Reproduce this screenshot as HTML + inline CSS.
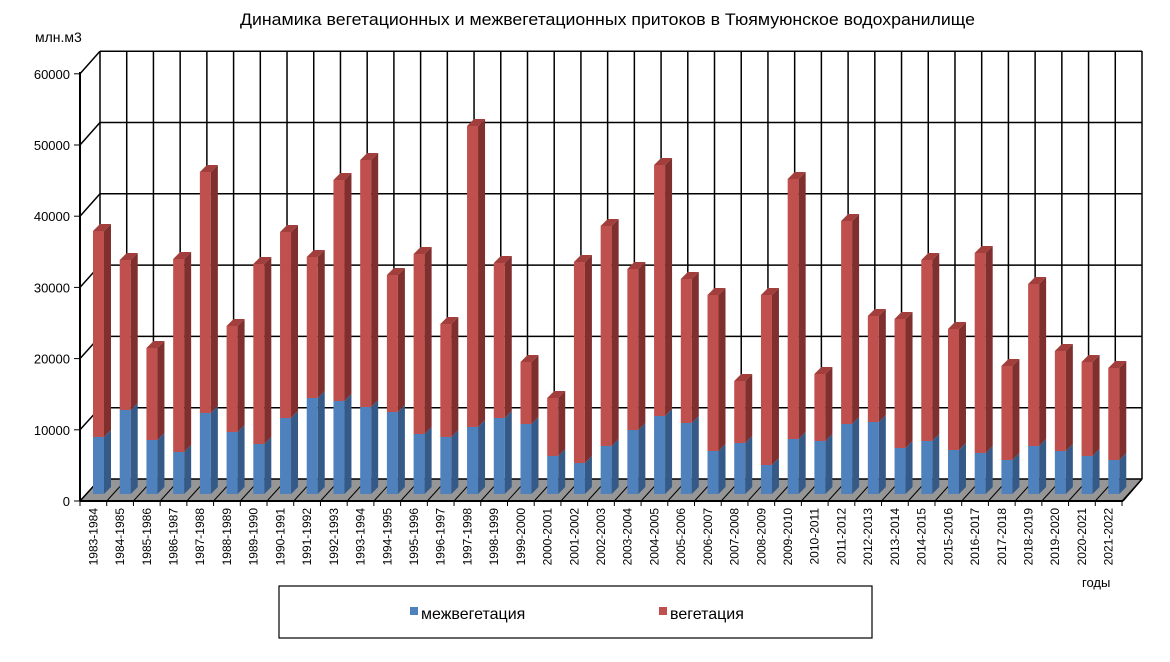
<!DOCTYPE html>
<html><head><meta charset="utf-8"><style>
body{margin:0;background:#fff}
svg{display:block;font-family:"Liberation Sans",Arial,sans-serif}
</style></head><body>
<svg id="c" width="1170" height="662" viewBox="0 0 1170 662" xmlns="http://www.w3.org/2000/svg">
<rect width="1170" height="662" fill="#fff"/>
<text x="240" y="25" font-size="16.5" textLength="735" lengthAdjust="spacingAndGlyphs">Динамика вегетационных и межвегетационных притоков в Тюямуюнское водохранилище</text>
<text x="35" y="42" font-size="14">млн.м3</text>
<text x="1082" y="587" font-size="13">годы</text>
<rect x="279" y="586" width="593" height="52" fill="none" stroke="#000" stroke-width="1.2"/>
<rect x="410" y="607" width="8" height="8" fill="#4F81BD"/>
<text x="421" y="619" font-size="16">межвегетация</text>
<rect x="659" y="607" width="8" height="8" fill="#C0504D"/>
<text x="670" y="619" font-size="16">вегетация</text>
<g id="g"></g>
</svg>
<script>
var g=document.getElementById('g'),s='';
var W=1042/39;
s+='<polygon points="80,501 1123,501 1142,479 100,479" fill="#969696"/>';
for(var k=0;k<=6;k++){var yb=479-k*71.3,yf=501-k*71.2;
 s+='<line x1="100" y1="'+yb+'" x2="1142" y2="'+yb+'" stroke="#000" stroke-width="1.5"/>';
 s+='<line x1="80" y1="'+yf+'" x2="100" y2="'+yb+'" stroke="#000" stroke-width="1.5"/>';
 s+='<line x1="74" y1="'+yf+'" x2="80" y2="'+yf+'" stroke="#000"/>';
 s+='<text x="70" y="'+(yf+5)+'" font-size="13" text-anchor="end">'+(k*10000)+'</text>';}
for(var i=0;i<=39;i++){var xb=100+i*W,xf=80+i*W;
 s+='<line x1="'+xb+'" y1="51" x2="'+xb+'" y2="479" stroke="#000" stroke-width="1.5"/>';
 s+='<line x1="'+xf+'" y1="501" x2="'+(xf+20)+'" y2="479" stroke="#000" stroke-width="1"/>';
 s+='<line x1="'+xf+'" y1="501" x2="'+xf+'" y2="506" stroke="#000"/>';}
s+='<line x1="80" y1="72" x2="80" y2="501" stroke="#000" stroke-width="2"/>';
s+='<line x1="80" y1="501" x2="1123" y2="501" stroke="#000" stroke-width="2"/>';
var labs=[],tops=[231,260,348,259,172,326,264,232,257,180,160,275,254,324,126,263,362,398,262,226,269,165,279,295,381,295,179,374,221,316,319,260,329,253,366,284,351,362,368],
blues=[437,410,440,452,413,432,444,418,398,401,407,412,434,437,427,418,424,456,463,446,430,416,423,451,443,465,439,441,424,422,448,441,450,453,460,446,451,456,460];
for(var i=0;i<39;i++){var a=1983+i;labs.push(a+'-'+(a+1));}
function bar(x,yt,yb,f,sd,tp){
 return '<rect x="'+x+'" y="'+yt+'" width="11" height="'+(yb-yt)+'" fill="'+f+'"/>'+
 '<polygon points="'+(x+11)+','+yb+' '+(x+18)+','+(yb-7)+' '+(x+18)+','+(yt-7)+' '+(x+11)+','+yt+'" fill="'+sd+'"/>'+
 (tp?'<polygon points="'+x+','+yt+' '+(x+7)+','+(yt-7)+' '+(x+18)+','+(yt-7)+' '+(x+11)+','+yt+'" fill="'+tp+'"/>':'');}
for(var i=0;i<39;i++){var x=80+i*W+13;
 s+=bar(x,blues[i],494,'#4F81BD','#355A87',null);
 s+=bar(x,tops[i],blues[i],'#C0504D','#7F2F2D','#A23F3C');
 var cx=80+i*W+W/2+4;
 s+='<text transform="translate('+cx+',508) rotate(-90)" font-size="12" text-anchor="end">'+labs[i]+'</text>';}
s+='<line x1="1123" y1="501" x2="1142" y2="479" stroke="#000" stroke-width="1.5"/>';
g.innerHTML=s;
</script>
</body></html>
